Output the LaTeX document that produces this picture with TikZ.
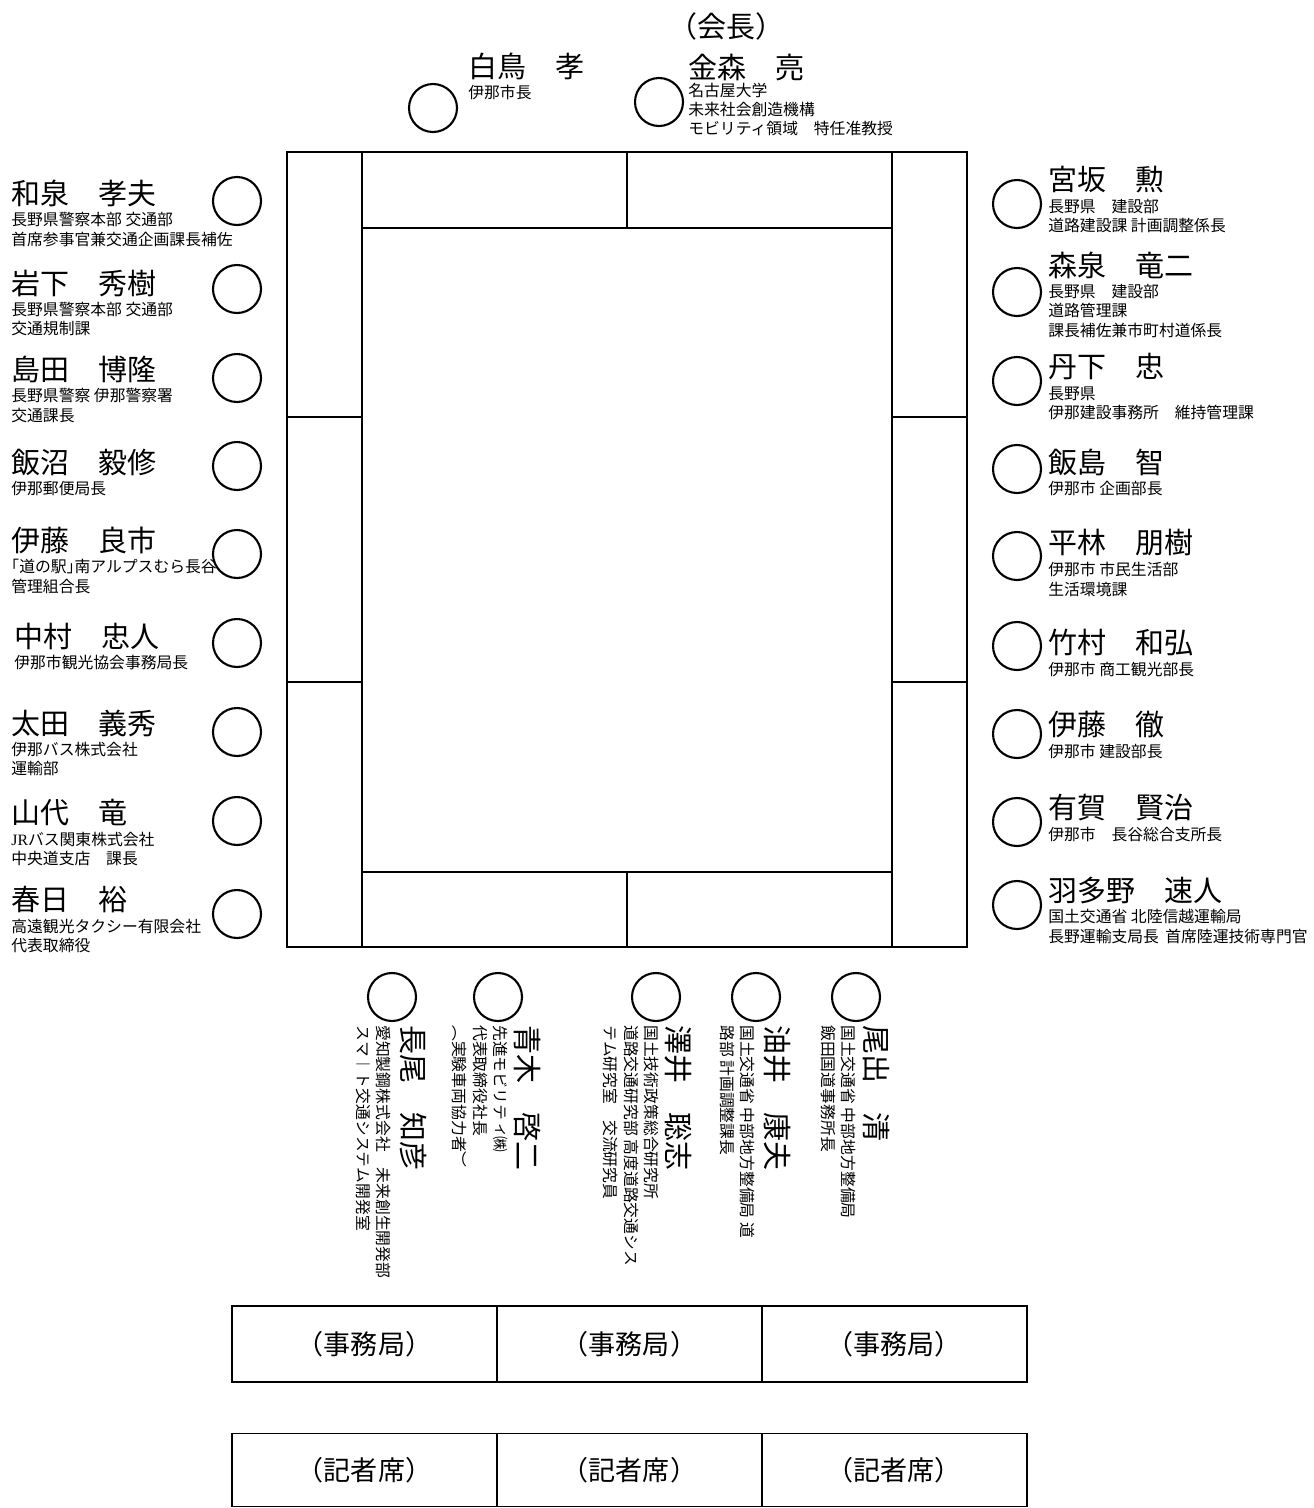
\documentclass[tikz,border=0pt]{standalone}
\usepackage{fontspec}
\setmainfont{Noto Sans CJK JP}
\newfontfamily\tatefont[Vertical=RotatedGlyphs, RawFeature=+vert]{Noto Sans CJK JP}
\newfontfamily\jrfont{Liberation Serif}
\newfontfamily\kakkofont[RawFeature=+halt]{Noto Sans CJK JP}
\newcommand\namesize{\fontsize{16.5pt}{20pt}\selectfont}
\newcommand\subsize{\fontsize{9pt}{11pt}\selectfont}
\usetikzlibrary{positioning}

\begin{document}
\begin{tikzpicture}[x=0.02cm, y=-0.02cm,
	seat/.style={circle, draw, line width=1.2pt, minimum size=0.96cm, inner sep=0pt},
	pname/.style={font=\namesize, inner sep=0pt, anchor=west},
	psub/.style={font=\subsize, inner sep=0pt, align=left},
	vname/.style={font=\tatefont\namesize, inner sep=0pt, rotate=-90, anchor=west},
	vsub/.style={font=\tatefont\fontsize{9pt}{11.5pt}\selectfont, inner sep=0pt,
		rotate=-90, align=left, anchor=north west},
	tbl/.style={line width=1.1pt},
	desk/.style={rectangle, draw, line width=1.1pt, outer sep=0pt, minimum width=5.3cm,
		minimum height=1.52cm, font=\fontsize{15.4pt}{18pt}\selectfont}]

	\useasboundingbox (0,0) rectangle (1314,1508);

	% the table
	\draw[tbl] (287,152) rectangle (967,947);
	\draw[tbl] (362,152) -- (362,947);
	\draw[tbl] (892,152) -- (892,947);
	\draw[tbl] (362,228) -- (892,228);
	\draw[tbl] (362,872) -- (892,872);
	\draw[tbl] (627,152) -- (627,228);
	\draw[tbl] (627,872) -- (627,947);
	\draw[tbl] (287,417) -- (362,417);
	\draw[tbl] (287,682) -- (362,682);
	\draw[tbl] (892,417) -- (967,417);
	\draw[tbl] (892,682) -- (967,682);

	% top
	\node[seat] (tc1) at (433,108) {};
	\node[seat] (tc2) at (659,102) {};
	\node[pname] (t1) at (468,66) {白鳥　孝};
	\node[psub, below=3pt of t1.south west, anchor=north west] (t1s) {伊那市長};
	\node[pname] (t0) at (668,26) {（会長）};
	\node[pname] (t2) at (688,67) {金森　亮};
	\node[psub, below=1pt of t2.south west, anchor=north west] (t2s)
		{名古屋大学\\未来社会創造機構\\モビリティ領域　特任准教授};

	% left side
	\foreach \y [count=\i] in {201,289,378,466,554,643,732,821,914}
		\node[seat] (lc\i) at (237,\y) {};

	\node[pname] (l1) at (11,193) {和泉　孝夫};
	\node[psub, below=3pt of l1.south west, anchor=north west] (l1s)
		{長野県警察本部 交通部\\首席参事官兼交通企画課長補佐};
	\node[pname] (l2) at (11,283) {岩下　秀樹};
	\node[psub, below=3pt of l2.south west, anchor=north west] (l2s)
		{長野県警察本部 交通部\\交通規制課};
	\node[pname] (l3) at (11,369) {島田　博隆};
	\node[psub, below=3pt of l3.south west, anchor=north west] (l3s)
		{長野県警察 伊那警察署\\交通課長};
	\node[pname] (l4) at (11,462) {飯沼　毅修};
	\node[psub, below=3pt of l4.south west, anchor=north west] (l4s)
		{伊那郵便局長};
	\node[pname] (l5) at (11,540) {伊藤　良市};
	\node[psub, below=3pt of l5.south west, anchor=north west] (l5s)
		{{\kakkofont 「}道の駅{\kakkofont 」}南アルプスむら長谷\\管理組合長};
	\node[pname] (l6) at (14,636) {中村　忠人};
	\node[psub, below=3pt of l6.south west, anchor=north west] (l6s)
		{伊那市観光協会事務局長};
	\node[pname] (l7) at (11,723) {太田　義秀};
	\node[psub, below=3pt of l7.south west, anchor=north west] (l7s)
		{伊那バス株式会社\\運輸部};
	\node[pname] (l8) at (11,813) {山代　竜};
	\node[psub, below=3pt of l8.south west, anchor=north west] (l8s)
		{{\jrfont JR}バス関東株式会社\\中央道支店　課長};
	\node[pname] (l9) at (11,900) {春日　裕};
	\node[psub, below=3pt of l9.south west, anchor=north west] (l9s)
		{高遠観光タクシー有限会社\\代表取締役};

	% right side
	\foreach \y [count=\i] in {204,292,381,469,556,646,734,822,905}
		\node[seat] (rc\i) at (1017,\y) {};

	\node[pname] (r1) at (1048,180) {宮坂　勲};
	\node[psub, below=3pt of r1.south west, anchor=north west] (r1s)
		{長野県　建設部\\道路建設課 計画調整係長};
	\node[pname] (r2) at (1048,265) {森泉　竜二};
	\node[psub, below=3pt of r2.south west, anchor=north west] (r2s)
		{長野県　建設部\\道路管理課\\課長補佐兼市町村道係長};
	\node[pname] (r3) at (1048,367) {丹下　忠};
	\node[psub, below=3pt of r3.south west, anchor=north west] (r3s)
		{長野県\\伊那建設事務所　維持管理課};
	\node[pname] (r4) at (1048,462) {飯島　智};
	\node[psub, below=3pt of r4.south west, anchor=north west] (r4s)
		{伊那市 企画部長};
	\node[pname] (r5) at (1048,543) {平林　朋樹};
	\node[psub, below=3pt of r5.south west, anchor=north west] (r5s)
		{伊那市 市民生活部\\生活環境課};
	\node[pname] (r6) at (1048,643) {竹村　和弘};
	\node[psub, below=3pt of r6.south west, anchor=north west] (r6s)
		{伊那市 商工観光部長};
	\node[pname] (r7) at (1048,725) {伊藤　徹};
	\node[psub, below=3pt of r7.south west, anchor=north west] (r7s)
		{伊那市 建設部長};
	\node[pname] (r8) at (1048,808) {有賀　賢治};
	\node[psub, below=3pt of r8.south west, anchor=north west] (r8s)
		{伊那市　長谷総合支所長};
	\node[pname] (r9) at (1048,890) {羽多野　速人};
	\node[psub, below=3pt of r9.south west, anchor=north west] (r9s)
		{国土交通省 北陸信越運輸局\\長野運輸支局長\hspace{0.4em}首席陸運技術専門官};

	% bottom (vertical writing)
	\foreach \x [count=\i] in {392,498,656,756,856}
		\node[seat] (bc\i) at (\x,997) {};

	\node[vname] (b1) at (413,1025) {長尾　知彦};
	\node[vsub] (b1s) at (391,1025)
		{愛知製鋼株式会社　未来創生開発部\\スマ︱ト交通システム開発室};
	\node[vname] (b2) at (527,1025) {青木　啓二};
	\node[vsub] (b2s) at (508,1025)
		{先進モビリティ㈱\\代表取締役社長\\︵実験車両協力者︶};
	\node[vname] (b3) at (678,1025) {澤井　聡志};
	\node[vsub] (b3s) at (659,1025)
		{国土技術政策総合研究所\\道路交通研究部 高度道路交通シス\\テム研究室　交流研究員};
	\node[vname] (b4) at (777,1025) {油井　康夫};
	\node[vsub] (b4s) at (755,1025)
		{国土交通省 中部地方整備局 道\\路部 計画調整課長};
	\node[vname] (b5) at (877,1025) {尾出　清};
	\node[vsub] (b5s) at (856,1025)
		{国土交通省 中部地方整備局\\飯田国道事務所長};

	% secretariat and press
	\node[desk] (s1) at (364.5,1344) {（事務局）};
	\node[desk, right=0pt of s1] (s2) {（事務局）};
	\node[desk, right=0pt of s2] (s3) {（事務局）};
	\node[desk, minimum height=1.46cm] (p1) at (364.5,1470) {（記者席）};
	\node[desk, minimum height=1.46cm, right=0pt of p1] (p2) {（記者席）};
	\node[desk, minimum height=1.46cm, right=0pt of p2] (p3) {（記者席）};
\end{tikzpicture}
\end{document}
